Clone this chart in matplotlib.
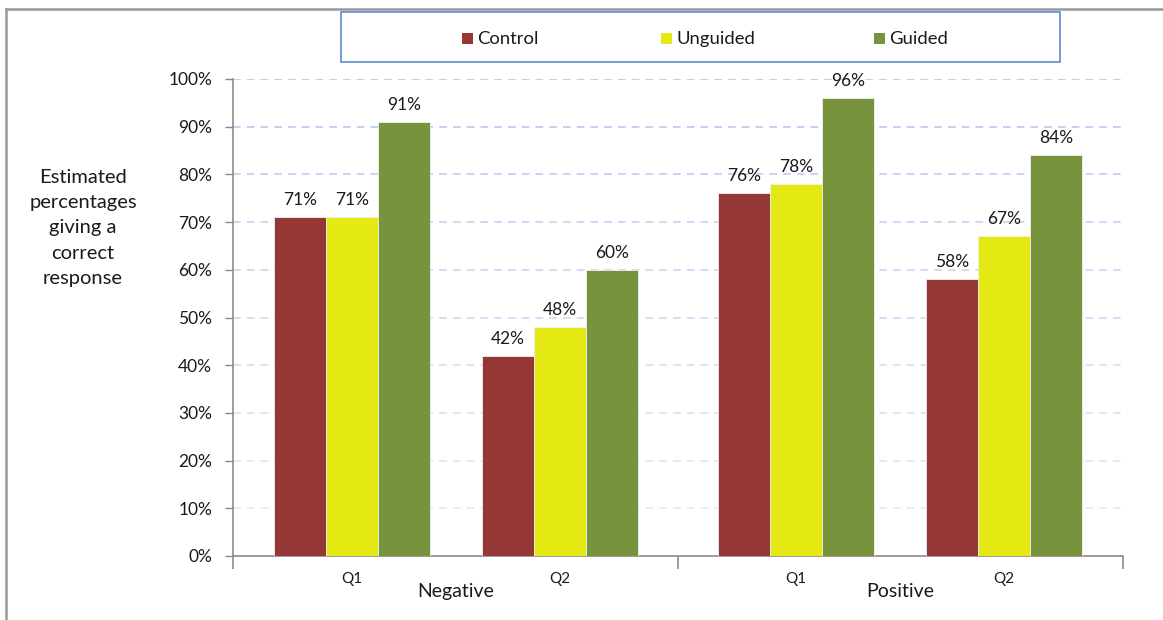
import matplotlib
matplotlib.use("Agg")
import matplotlib.pyplot as plt
from matplotlib.patches import Rectangle
from matplotlib.lines import Line2D
import numpy as np

plt.rcParams['font.family'] = ['Lato', 'DejaVu Sans']

# Data
groups = ["Negative", "Positive"]
questions = ["Q1", "Q2", "Q1", "Q2"]
series_names = ["Control", "Unguided", "Guided"]
control = [71, 42, 76, 58]
unguided = [71, 48, 78, 67]
guided = [91, 60, 96, 84]
y_ticks = [0, 10, 20, 30, 40, 50, 60, 70, 80, 90, 100]

colors = ["#953735", "#e4e913", "#77933c"]

W, H = 1163, 620
fig = plt.figure(figsize=(W / 100, H / 100), dpi=100)

def fx(px):
    return px / W

def fy(py):
    return 1 - py / H

ax = fig.add_axes([fx(233), fy(556), fx(1123) - fx(233), fy(79) - fy(556)])

# category positions: two questions per group, small extra gap between groups
group_gap = 0.135
pos = np.array([i + group_gap * (i // 2) for i in range(len(questions))])
bw = 0.25

for k, vals in enumerate([control, unguided, guided]):
    xs = pos + (k - 1) * bw
    ax.bar(xs, vals, width=bw, color=colors[k], edgecolor="#f0f0f0",
           linewidth=0.6, zorder=3)
    for x, v in zip(xs, vals):
        ax.text(x, v + 1.9, f"{v}%", ha="center", va="bottom",
                fontsize=12.5, color="#1a1a1a", zorder=4)

ax.set_ylim(0, 100)
ax.set_xlim(-0.572, 3.707)
ax.set_yticks(y_ticks)
ax.set_yticklabels([f"{t}%" for t in y_ticks], fontsize=12.5, color="#1a1a1a")
ax.tick_params(axis="y", length=6, width=1, color="#888888", pad=9)

# dashed gridlines, fading toward the bottom
for t in y_ticks[1:]:
    a = 0.3 + 0.7 * (t / 100)
    ax.axhline(t, color="#a9c1ee", lw=1.1, ls=(0, (5, 4)), alpha=a, zorder=1)

for s in ["top", "right"]:
    ax.spines[s].set_visible(False)
for s in ["left", "bottom"]:
    ax.spines[s].set_color("#8c8c8c")
    ax.spines[s].set_linewidth(1.2)

# group separators on the category axis
sep = (pos[1] + pos[2]) / 2
ax.set_xticks([ax.get_xlim()[0], sep, ax.get_xlim()[1]])
ax.set_xticklabels([])
ax.tick_params(axis="x", length=9, width=1.2, color="#8c8c8c", direction="out")

for x, q in zip(pos, questions):
    ax.text(x, -3.4, q, ha="center", va="top", fontsize=11, color="#1a1a1a")

x0, x1 = ax.get_xlim()
for (lo, hi), g in zip([(x0, sep), (sep, x1)], groups):
    ax.text((lo + hi) / 2, -5.6, g, ha="center", va="top", fontsize=14,
            color="#1a1a1a")

# y-axis title
fig.text(fx(83), fy(228), "Estimated\npercentages\ngiving a\ncorrect\nresponse",
         ha="center", va="center", fontsize=14.5, linespacing=1.6,
         color="#1a1a1a")

# legend box
fig.patches.append(Rectangle((fx(341), fy(62)), fx(1060) - fx(341),
                             fy(12) - fy(62), transform=fig.transFigure,
                             facecolor="white", edgecolor="#5b8bd0", lw=1.2))
for name, c, px in zip(series_names, colors, [462, 661, 874]):
    fig.patches.append(Rectangle((fx(px), fy(44)), fx(11), 11 / H,
                                 transform=fig.transFigure, facecolor=c,
                                 edgecolor="none"))
    fig.text(fx(px + 15), fy(39), name, ha="left", va="center",
             fontsize=13.3, color="#1a1a1a")

# frame lines at top and left
fig.lines.append(Line2D([fx(6), 1], [fy(9), fy(9)], transform=fig.transFigure,
                        color="#999999", lw=1.8))
fig.lines.append(Line2D([fx(6), fx(6)], [fy(9), 0], transform=fig.transFigure,
                        color="#999999", lw=1.8))

fig.savefig("out.png", dpi=100)
